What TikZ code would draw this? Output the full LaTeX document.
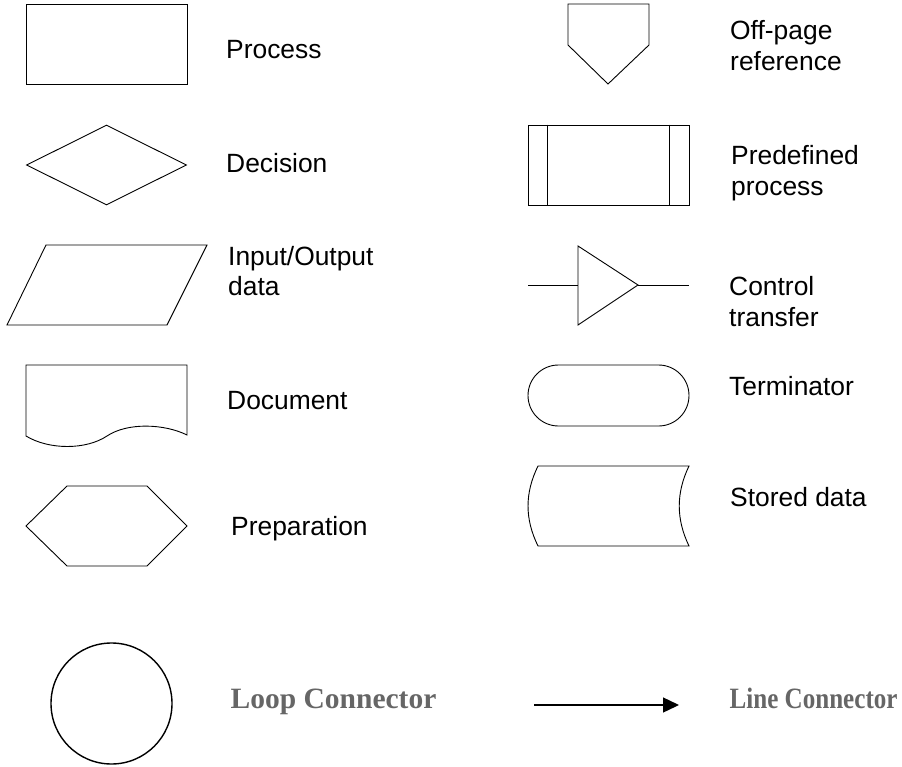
\documentclass[tikz,border=0pt]{standalone}
\usepackage{fontspec}
\setmainfont{Liberation Sans}
\newfontfamily\legendfont{Liberation Serif}
\usetikzlibrary{shapes.geometric, arrows.meta}
\definecolor{legendgray}{RGB}{102,102,102}

\begin{document}
\begin{tikzpicture}[
    x=1pt, y=-1pt,
    symbol/.style={draw, line width=0.9pt, inner sep=0pt},
    outline/.style={line width=0.9pt, line join=miter},
    caption/.style={anchor=base west, inner sep=0pt, align=left, font=\fontsize{26.4}{31}\selectfont},
    legend/.style={anchor=base west, inner sep=0pt, text=legendgray, font=\legendfont\bfseries\fontsize{29.5}{32}\selectfont},
    arrow/.style={-{Triangle[length=16pt, width=15pt]}, line width=1.4pt}
]
    \useasboundingbox (0,0) rectangle (902,767);

    % Left column
    \node[symbol, minimum width=161pt, minimum height=80.5pt] (process) at (106.5,44.5) {};
    \node[caption] (processtext) at (226,58.3) {Process};

    \node[symbol, diamond, aspect=2, minimum width=160pt, minimum height=80pt] (decision) at (106.5,165) {};
    \node[caption] (decisiontext) at (226,172.7) {Decision};

    \draw[outline] (46,245) -- (207,245) -- (167,325) -- (7,325) -- cycle;
    \node[caption] (iotext) at (228,296) {Input/Output\\data};

    \draw[outline] (26,436) -- (26,365) -- (187,365) -- (187,435)
        .. controls (165,424) and (128,422) .. (107,436)
        .. controls (86,450) and (49,450) .. (26,436) -- cycle;
    \node[caption] (documenttext) at (227,409.3) {Document};

    \draw[outline] (26,526) -- (67,486) -- (147,486) -- (187,526) -- (147,566) -- (67,566) -- cycle;
    \node[caption] (preparationtext) at (231,535.7) {Preparation};

    % Right column
    \draw[outline] (568,4) -- (649,4) -- (649,45) -- (608,84) -- (568,45) -- cycle;
    \node[caption] (offpagetext) at (730,71) {Off-page\\reference};

    \node[symbol, minimum width=161pt, minimum height=80pt] (predefined) at (608.5,165) {};
    \draw[outline] ([xshift=20pt]predefined.north west) -- ([xshift=20pt]predefined.south west);
    \draw[outline] ([xshift=-20pt]predefined.north east) -- ([xshift=-20pt]predefined.south east);
    \node[caption] (predefinedtext) at (731,195.7) {Predefined\\process};

    \coordinate (ctlin) at (528,285);
    \coordinate (ctlbase) at (578,285);
    \coordinate (ctltip) at (638,285);
    \coordinate (ctlout) at (689,285);
    \draw[outline] (578,246) -- (ctltip) -- (578,325) -- cycle;
    \draw[outline] (ctlin) -- (ctlbase);
    \draw[outline] (ctltip) -- (ctlout);
    \node[caption] (controltext) at (729,326.5) {Control\\transfer};

    \node[symbol, rounded corners=30.5pt, minimum width=161pt, minimum height=61pt] (terminator) at (608.5,395.5) {};
    \node[caption] (terminatortext) at (729,395.3) {Terminator};

    \draw[outline] (538,466) -- (689,466)
        .. controls (676,493) and (676,519) .. (689,546)
        -- (538,546)
        .. controls (524.7,519) and (524.7,493) .. (538,466) -- cycle;
    \node[caption] (storedtext) at (730,506) {Stored data};

    % Connectors
    \node[symbol, circle, line width=1.4pt, minimum size=121pt] (loop) at (111.5,703.5) {};
    \node[legend] (looptext) at (230.5,708.7) {Loop Connector};

    \coordinate (linestart) at (534,705);
    \coordinate (lineend) at (679,705);
    \draw[arrow] (linestart) -- (lineend);
    \node[legend, xscale=0.85, transform shape] (linetext) at (729.5,708.3) {Line Connector};
\end{tikzpicture}
\end{document}
